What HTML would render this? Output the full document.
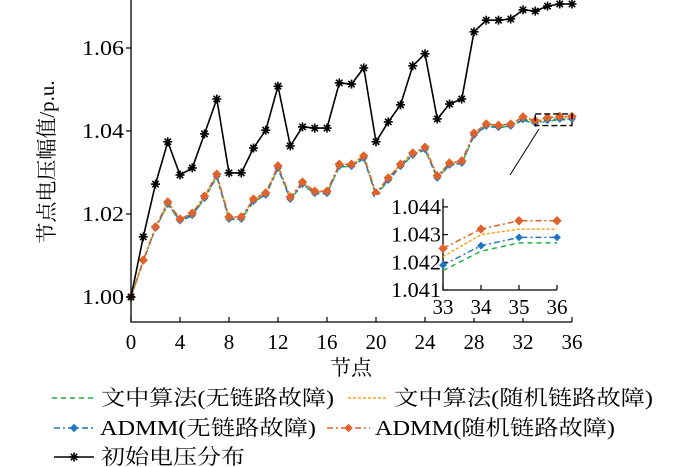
<!DOCTYPE html>
<html><head><meta charset="utf-8">
<style>
html,body{margin:0;padding:0;background:#fff;}
svg{display:block;font-family:"Liberation Serif","Noto Serif CJK SC",serif;}
</style></head>
<body>
<svg id="chart" width="700" height="467" viewBox="0 0 700 467">
<g id="main"></g>
<g id="inset"></g>
<g id="legend"></g>
</svg>
<script>
const nodes = [0,1,2,3,4,5,6,7,8,9,10,11,12,13,14,15,16,17,18,19,20,21,22,23,24,25,26,27,28,29,30,31,32,33,34,35,36];
const initialV = [1.000,1.0145,1.0272,1.0374,1.0294,1.0311,1.0393,1.0477,1.0299,1.0299,1.0359,1.0402,1.0508,1.0364,1.0410,1.0407,1.0407,1.0516,1.0513,1.0552,1.0374,1.0422,1.0463,1.0557,1.0586,1.0429,1.0465,1.0477,1.0639,1.0667,1.0667,1.0670,1.0692,1.0689,1.0701,1.0706,1.0706];
const admmRand = [1.000,1.0089,1.0169,1.0229,1.0188,1.0202,1.0243,1.0296,1.0193,1.0193,1.0236,1.0251,1.0316,1.0241,1.0277,1.0255,1.0255,1.0320,1.0320,1.0340,1.0251,1.0287,1.0320,1.0347,1.0361,1.0292,1.0323,1.0328,1.0395,1.0417,1.0414,1.0417,1.0434,1.0425,1.0432,1.0435,1.0435];
const propRand = [1.000,1.0088,1.0168,1.0227,1.0186,1.0200,1.0241,1.0294,1.0191,1.0191,1.0234,1.0249,1.0314,1.0239,1.0275,1.0253,1.0253,1.0318,1.0318,1.0338,1.0249,1.0285,1.0318,1.0345,1.0359,1.0290,1.0321,1.0326,1.0393,1.0415,1.0412,1.0415,1.0431,1.0422,1.0430,1.0432,1.0432];
const admmNo = [1.000,1.0087,1.0166,1.0224,1.0184,1.0197,1.0238,1.0291,1.0188,1.0188,1.0231,1.0246,1.0311,1.0236,1.0272,1.0250,1.0250,1.0315,1.0315,1.0335,1.0246,1.0282,1.0315,1.0342,1.0356,1.0287,1.0318,1.0323,1.0390,1.0412,1.0409,1.0412,1.0428,1.0419,1.0426,1.0429,1.0429];
const propNo = [1.000,1.0086,1.0165,1.0223,1.0183,1.0196,1.0237,1.0290,1.0187,1.0187,1.0230,1.0245,1.0310,1.0235,1.0271,1.0249,1.0249,1.0314,1.0314,1.0334,1.0245,1.0281,1.0314,1.0341,1.0355,1.0286,1.0317,1.0322,1.0389,1.0411,1.0408,1.0411,1.0426,1.0417,1.0424,1.0427,1.0427];
const xTicks = [0,4,8,12,16,20,24,28,32,36];
const yTicks = [1.00,1.02,1.04,1.06];
const yTickLabels = ["1.00","1.02","1.04","1.06"];
const insetXTicks = [33,34,35,36];
const insetYTicks = [1.041,1.042,1.043,1.044];
const insetYTickLabels = ["1.041","1.042","1.043","1.044"];

const NS="http://www.w3.org/2000/svg";
function mk(parent,tag,attrs,text){const e=document.createElementNS(NS,tag);for(const k in attrs)e.setAttribute(k,attrs[k]);if(text!==undefined)e.textContent=text;parent.appendChild(e);return e;}

const X0=131,X1=572,AXY=322,Ytop=0;
const xs=v=>X0+(v-0)*(X1-X0)/36;
const ys=v=>297-(v-1.0)*4150;
const main=document.getElementById('main');
const TF=21;

let ax=mk(main,'path',{d:`M${X0},${Ytop} V${AXY} H${X1}`,fill:'none',stroke:'#000','stroke-width':1.3});


xTicks.forEach(t=>{
  const x=xs(t);
  mk(main,'line',{x1:x,x2:x,y1:AXY,y2:AXY-5,stroke:'#000','stroke-width':1.2});
  const lb=mk(main,'text',{x:x,y:349,'font-size':TF,'text-anchor':'middle'},String(t));
  
  
});
yTicks.forEach((t,i)=>{
  const y=ys(t);
  mk(main,'line',{x1:X0-5,x2:X0,y1:y,y2:y,stroke:'#000','stroke-width':1.2});
  const lb=mk(main,'text',{x:X0-7,y:y+7,'font-size':TF,'text-anchor':'end',textLength:42,lengthAdjust:'spacingAndGlyphs'},yTickLabels[i]);
  
  
});
let xt=mk(main,'text',{x:351,y:375,'font-size':21,'text-anchor':'middle'},'节点');


let yt=mk(main,'text',{x:0,y:0,'font-size':21,'text-anchor':'middle',transform:'translate(54,162) rotate(-90)'},'节点电压幅值/p.u.');



function star(g,x,y,c){
  for(let a=0;a<4;a++){const an=a*Math.PI/4;const dx=4.5*Math.cos(an),dy=4.5*Math.sin(an);
    mk(g,'line',{x1:x-dx,y1:y-dy,x2:x+dx,y2:y+dy,stroke:c,'stroke-width':1.6});}
}
function diamond(g,x,y,c,r){
  mk(g,'path',{d:`M${x},${y-r} L${x+r},${y} L${x},${y+r} L${x-r},${y} Z`,fill:c,stroke:c,'stroke-width':1});
}
function series(parent,xv,yv,xf,yf,style,name){
  const g=mk(parent,'g',{});
  
  
  const d=yv.map((v,i)=>(i?'L':'M')+xf(xv[i]).toFixed(1)+','+yf(v).toFixed(1)).join(' ');
  mk(g,'path',{d:d,fill:'none',stroke:style.c,'stroke-width':style.w||1.5,'stroke-dasharray':style.dash||'none'});
  if(style.m==='star') yv.forEach((v,i)=>star(g,xf(xv[i]),yf(v),style.c));
  if(style.m==='dia') yv.forEach((v,i)=>diamond(g,xf(xv[i]),yf(v),style.c,style.r||3.5));
  return g;
}
const S={
  propNo:{c:'#1fb53a',dash:'5,4'},
  propRand:{c:'#f7a21b',dash:'3,2'},
  admmNo:{c:'#1f77c4',dash:'6,3,2,3',m:'dia',r:3.2},
  admmRand:{c:'#e0622a',dash:'6,3,2,3',m:'dia',r:4},
  initial:{c:'#000',m:'star',w:1.6}
};
series(main,nodes,propNo,xs,ys,S.propNo,'series-proposed-no-fault');
series(main,nodes,propRand,xs,ys,S.propRand,'series-proposed-random-fault');
series(main,nodes,admmNo,xs,ys,S.admmNo,'series-admm-no-fault');
series(main,nodes,admmRand,xs,ys,S.admmRand,'series-admm-random-fault');
series(main,nodes,initialV,xs,ys,S.initial,'series-initial-voltage');

let zb=mk(main,'rect',{x:xs(33),y:ys(1.0441),width:xs(36)-xs(33),height:ys(1.0413)-ys(1.0441),fill:'none',stroke:'#000','stroke-width':1.4,'stroke-dasharray':'6,3'});


let cn=mk(main,'line',{x1:510,y1:175,x2:539,y2:129,stroke:'#000','stroke-width':1});



const inset=document.getElementById('inset');
const IX0=443,IX1=557,IY0=290;
const ixs=v=>IX0+(v-33)*(IX1-IX0)/3;
const iys=v=>IY0-(v-1.041)*27700;
mk(inset,'rect',{x:IX0-68,y:195,width:IX1-IX0+80,height:99,fill:'#fff'});
mk(inset,'rect',{x:IX0-15,y:294,width:IX1-IX0+28,height:24,fill:'#fff'});
mk(inset,'path',{d:`M${IX0},${iys(1.0443)} V${IY0} H${IX1}`,fill:'none',stroke:'#000','stroke-width':1.3});
insetXTicks.forEach(t=>{const x=ixs(t);
  mk(inset,'line',{x1:x,x2:x,y1:IY0,y2:IY0-5,stroke:'#000','stroke-width':1.2});
  const lb=mk(inset,'text',{x:x,y:IY0+24,'font-size':TF,'text-anchor':'middle'},String(t));
  
  
});
insetYTicks.forEach((t,i)=>{const y=iys(t);
  mk(inset,'line',{x1:IX0,x2:IX0+5,y1:y,y2:y,stroke:'#000','stroke-width':1.2});
  const lb=mk(inset,'text',{x:IX0-2,y:y+7,'font-size':TF,'text-anchor':'end',textLength:50,lengthAdjust:'spacingAndGlyphs'},insetYTickLabels[i]);
  
  
});
const inNodes=nodes.slice(33),sl=a=>a.slice(33);
series(inset,inNodes,sl(propNo),ixs,iys,S.propNo,'inset-proposed-no-fault');
series(inset,inNodes,sl(propRand),ixs,iys,S.propRand,'inset-proposed-random-fault');
series(inset,inNodes,sl(admmNo),ixs,iys,S.admmNo,'inset-admm-no-fault');
series(inset,inNodes,sl(admmRand),ixs,iys,S.admmRand,'inset-admm-random-fault');

const lg=document.getElementById('legend');
const entries=[
  {x:52,lx2:94,tx:101,tw:233,y:405,label:'文中算法(无链路故障)',s:S.propNo,n:'legend-proposed-no-fault'},
  {x:348,lx2:388,tx:394,tw:259,y:405,label:'文中算法(随机链路故障)',s:S.propRand,n:'legend-proposed-random-fault'},
  {x:54,lx2:94,tx:100,tw:216,y:435,label:'ADMM(无链路故障)',s:S.admmNo,n:'legend-admm-no-fault'},
  {x:327,lx2:370,tx:375,tw:240,y:435,label:'ADMM(随机链路故障)',s:S.admmRand,n:'legend-admm-random-fault'},
  {x:54,lx2:94,tx:101,tw:144,y:464,label:'初始电压分布',s:S.initial,n:'legend-initial-voltage'}
];
entries.forEach(e=>{
  const g=mk(lg,'g',{});
  
  
  const mid=(e.x+e.lx2)/2;
  mk(g,'line',{x1:e.x,x2:e.lx2,y1:e.y-7,y2:e.y-7,stroke:e.s.c,'stroke-width':1.5,'stroke-dasharray':e.s.dash||'none'});
  if(e.s.m==='star') star(g,mid,e.y-7,e.s.c);
  if(e.s.m==='dia') diamond(g,mid,e.y-7,e.s.c,3.5);
  mk(g,'text',{x:e.tx,y:e.y,'font-size':21,textLength:e.tw,lengthAdjust:'spacingAndGlyphs'},e.label);
});
</script>
</body></html>
